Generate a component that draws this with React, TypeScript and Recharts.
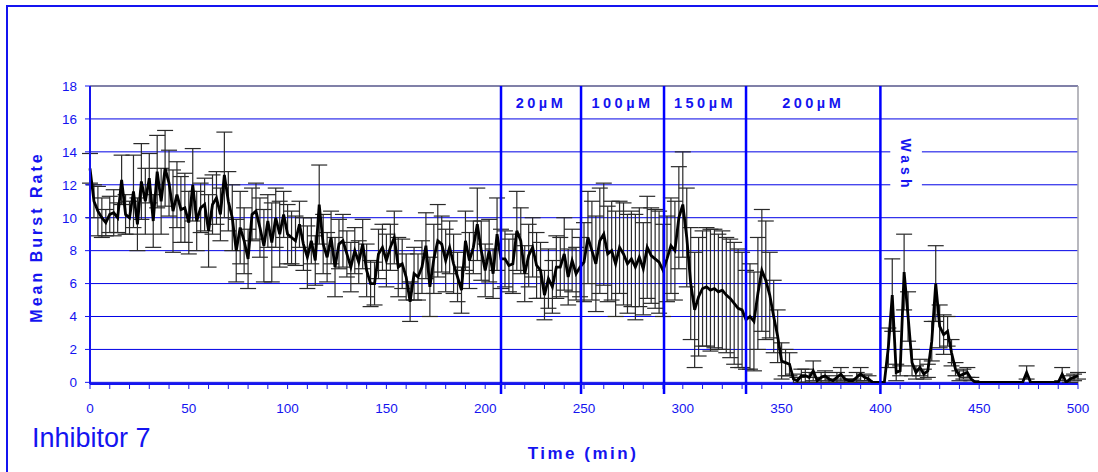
import React from 'react';
import {
  LineChart, Line, XAxis, YAxis, CartesianGrid, ErrorBar,
  ReferenceLine, ReferenceArea,
} from 'recharts';

// Sampling step of the recording (minutes)
const STEP = 2;

// Mean burst rate by phase (every 2 min)
const BASELINE_MEAN = [
  13.0, 11.0, 10.4, 10.0, 9.7, 10.2, 10.3, 10.0, 12.3, 10.2,
  10.0, 11.6, 9.6, 12.2, 11.0, 12.4, 9.8, 12.8, 11.0, 13.0,
  12.1, 10.4, 11.4, 10.5, 10.6, 9.7, 12.0, 9.8, 10.6, 10.8,
  9.2, 10.8, 11.2, 10.2, 12.6, 11.0, 10.0, 8.0, 9.4, 8.6,
  7.5, 10.2, 10.4, 9.4, 8.3, 9.8, 8.5, 10.0, 9.0, 10.2,
  9.0, 8.8, 8.6, 9.6, 8.4, 7.6, 8.6, 7.4, 10.8, 8.4,
  7.6, 8.8, 7.0, 8.4, 8.6, 7.8, 7.0, 8.0, 7.3, 8.4,
  6.8, 6.0, 6.0, 7.8, 8.2, 7.4, 8.2, 8.8, 7.0, 7.2,
  6.4, 4.9, 6.6, 6.4,
  7.0, 8.3, 5.8, 7.5, 8.6, 8.4, 7.4, 8.2, 7.2, 6.4,
  5.6, 8.6, 7.4, 8.2, 9.6, 8.0, 6.8, 8.0, 6.6, 9.0, 7.5,
];
const DOSE20_MEAN = [7.5, 7.1, 7.2, 9.2, 8.6, 6.6, 7.7, 8.2, 7.1, 6.8, 5.3, 6.3, 5.8, 7.0, 7.0, 7.8, 6.4, 7.4, 6.6, 7.0];
const DOSE100_MEAN = [7.3, 8.8, 8.0, 7.2, 8.6, 9.0, 7.8, 8.0, 7.2, 8.2, 7.8, 7.2, 7.5, 7.0, 7.6, 6.9, 8.2, 7.7, 7.5, 7.3, 6.8];
const DOSE150_MEAN = [7.5, 8.3, 8.0, 10.0, 10.8, 8.8, 6.0, 4.4, 5.2, 5.7, 5.8, 5.6, 5.7, 5.5, 5.6, 5.3, 5.1, 4.8, 4.5, 4.4];
const DOSE200_MEAN = [
  3.8, 4.0, 3.7, 5.4, 6.8, 6.2, 5.3, 4.0, 2.8, 1.3,
  1.2, 1.1, 0.2, 0.1, 0.4, 0.4, 0.3, 0.7, 0.1, 0.3,
  0.4, 0.2, 0.1, 0.3, 0.5, 0.2, 0.1, 0.1, 0.3, 0.5,
  0.3, 0.2, 0, 0, 0, 0,
];
const WASH_MEAN = [
  2.1, 5.3, 0.6, 0.7, 6.7, 4.0, 1.2, 0.6, 0.9, 0.5,
  0.7, 2.5, 6.0, 3.4, 2.9, 3.1, 1.8, 0.8, 0.4, 0.5,
  0.6, 0.2, 0,
  0, 0, 0, 0, 0, 0, 0, 0, 0, 0, 0, 0, 0.6,
  0, 0, 0, 0, 0, 0, 0, 0, 0.5, 0, 0.2, 0.3, 0.4,
];

// Error (SD) by phase
const BASELINE_ERR = [
  0.9, 1.0, 1.5, 1.2, 0.8, 1.1, 1.4, 0.9, 1.5, 1.2,
  1.0, 2.2, 1.6, 2.3, 2.0, 1.5, 1.6, 2.2, 2.0, 2.3,
  2.0, 2.5, 2.0, 2.0, 2.1, 1.9, 2.2, 1.8, 1.5, 1.6,
  2.2, 1.8, 1.6, 1.6, 2.6, 1.8, 2.0, 1.9, 2.2, 2.0,
  1.8, 1.6, 1.7, 1.8, 2.2, 1.6, 2.4, 1.8, 2.0, 1.4,
  1.8, 1.6, 1.5, 1.4, 1.6, 1.9, 1.4, 1.5, 2.4, 1.8,
  1.5, 1.6, 1.8, 1.5, 1.6, 1.4, 1.5, 1.4, 1.3, 1.5,
  1.6, 1.4, 1.3, 1.5, 1.4, 1.6, 1.4, 1.6, 1.8, 1.5,
  1.4, 1.2, 1.6, 1.4,
  1.6, 2.0, 1.8, 2.1, 2.2, 1.7, 1.9, 1.6, 1.8, 1.5,
  1.4, 1.8, 1.7, 1.6, 2.2, 1.8, 1.6, 1.9, 1.5, 2.2, 1.8,
];
const DOSE20_ERR = [1.7, 1.6, 1.8, 2.4, 2.0, 1.7, 1.9, 1.8, 2.0, 1.7, 1.5, 1.8, 1.6, 1.9, 1.8, 2.2, 1.7, 1.9, 1.6, 1.8];
const DOSE100_ERR = [2.4, 2.8, 3.0, 2.9, 3.2, 3.1, 2.9, 3.0, 3.2, 2.8, 3.1, 3.0, 2.9, 3.2, 3.0, 2.8, 3.1, 2.9, 3.0, 3.1, 2.8];
const DOSE150_ERR = [2.6, 2.9, 3.0, 3.1, 3.2, 3.0, 3.4, 3.5, 3.6, 3.5, 3.6, 3.7, 3.6, 3.5, 3.6, 3.5, 3.6, 3.7, 3.6, 3.5];
const DOSE200_ERR = [
  3.0, 3.2, 3.0, 3.4, 3.7, 3.6, 2.6, 2.2, 1.6, 1.1,
  0.8, 0.7, 0.3, 0.2, 0.4, 0.4, 0.3, 0.6, 0.2, 0.3,
  0.3, 0.2, 0.1, 0.3, 0.4, 0.2, 0.1, 0.1, 0.3, 0.4,
  0.2, 0.2, 0, 0, 0, 0,
];
const WASH_ERR = [
  1.2, 2.2, 0.5, 0.3, 2.3, 1.5, 0.8, 0.4, 0.5, 0.3,
  0.4, 1.2, 2.3, 1.3, 1.2, 0.9, 0.8, 0.4, 0.3, 0.3,
  0.3, 0.1, 0,
  0, 0, 0, 0, 0, 0, 0, 0, 0, 0, 0, 0, 0.4,
  0, 0, 0, 0, 0, 0, 0, 0, 0.4, 0, 0.2, 0.2, 0.2,
];

// Treatment boundaries (min) and labels
const BOUNDARIES = [208, 248.5, 290.5, 332, 400];
const DOSE_LABELS = ['20\u00b5M', '100\u00b5M', '150\u00b5M', '200\u00b5M'];
const WASH_LABEL = 'Wash';

const X_TICKS = [0, 10, 20, 30, 40, 50, 60, 70, 80, 90, 100, 110, 120, 130, 140, 150, 160, 170, 180, 190, 200,
  210, 220, 230, 240, 250, 260, 270, 280, 290, 300, 310, 320, 330, 340, 350, 360, 370, 380, 390, 400,
  410, 420, 430, 440, 450, 460, 470, 480, 490, 500];
const Y_TICKS = [0, 2, 4, 6, 8, 10, 12, 14, 16, 18];

const MEAN = [...BASELINE_MEAN, ...DOSE20_MEAN, ...DOSE100_MEAN, ...DOSE150_MEAN, ...DOSE200_MEAN, ...WASH_MEAN];
const ERR = [...BASELINE_ERR, ...DOSE20_ERR, ...DOSE100_ERR, ...DOSE150_ERR, ...DOSE200_ERR, ...WASH_ERR];
const data = MEAN.map((m, i) => ({ t: i * STEP, mean: m, err: ERR[i] }));

const BLUE = '#1414f0';
const FONT = '"Liberation Sans", Arial, sans-serif';

const VLine = (p: any) => {
  const top = Math.min(p.y1, p.y2);
  const bot = Math.max(p.y1, p.y2);
  return <line x1={p.x1} x2={p.x2} y1={top} y2={bot + 10} stroke="#0000ff" strokeWidth={2.5} />;
};

export default function App() {
  return (
    <div style={{ position: 'absolute', left: 0, top: 0, width: 1098, height: 472, background: '#fff', overflow: 'hidden', fontFamily: FONT }}>
      <div style={{ position: 'absolute', left: 6, top: 5, width: 1200, height: 600, borderTop: `2px solid ${BLUE}`, borderLeft: `2px solid ${BLUE}` }} />
      <div style={{ position: 'absolute', left: 0, top: 0 }}>
        <LineChart width={1098} height={472} data={data} margin={{ top: 86, right: 20, bottom: 58, left: 40 }}>
          <CartesianGrid vertical={false} stroke="#0000e6" strokeWidth={1} />
          <XAxis
            dataKey="t" type="number" domain={[0, 500]} ticks={X_TICKS} interval={0}
            tickFormatter={(v: number) => (v % 50 === 0 ? String(v) : '')}
            tick={{ fill: BLUE, fontSize: 13.5, fontFamily: FONT }}
            tickLine={{ stroke: BLUE }} tickSize={5} tickMargin={14}
            axisLine={{ stroke: BLUE, strokeWidth: 2 }} height={30}
          />
          <YAxis
            type="number" domain={[0, 18]} ticks={Y_TICKS} interval={0}
            tick={{ fill: BLUE, fontSize: 13.5, fontFamily: FONT }}
            tickLine={{ stroke: BLUE }} tickSize={5} tickMargin={8}
            axisLine={{ stroke: BLUE, strokeWidth: 2 }} width={50}
          />
          <ReferenceLine y={18} stroke="#8080a8" strokeWidth={2} />
          <ReferenceLine x={500} stroke="#a0a0a8" strokeWidth={1.5} />
          {DOSE_LABELS.map((lab, i) => (
            <ReferenceArea
              key={lab} x1={BOUNDARIES[i]} x2={BOUNDARIES[i + 1]} y1={16} y2={18}
              fill="none" fillOpacity={0} stroke="none"
              label={{ value: lab, position: 'center', fill: BLUE, fontSize: 14.5, fontWeight: 'bold', fontFamily: FONT, letterSpacing: 3.5 } as any}
            />
          ))}
          <ReferenceArea
            x1={405} x2={421} y1={11.6} y2={14.8} fill="#ffffff" fillOpacity={1} stroke="none"
            label={{ value: WASH_LABEL, position: 'center', angle: 90, fill: BLUE, fontSize: 14, fontWeight: 'bold', fontFamily: FONT, letterSpacing: 4 } as any}
          />
          <Line
            dataKey="mean" type="linear" stroke="#000" strokeWidth={2.8} dot={false}
            isAnimationActive={false}
          >
            <ErrorBar dataKey="err" width={8} stroke="#2a2a2a" strokeWidth={1.2} direction="y" isAnimationActive={false} />
          </Line>
          {BOUNDARIES.map((b) => (
            <ReferenceLine key={b} x={b} shape={VLine} />
          ))}
        </LineChart>
      </div>
      <svg width={1098} height={472} style={{ position: 'absolute', left: 0, top: 0, pointerEvents: 'none' }}>
        <text
          x={36} y={237} transform="rotate(-90 36 237)" textAnchor="middle" dominantBaseline="central"
          fill={BLUE} fontSize={16} fontWeight="bold" fontFamily={FONT} letterSpacing={3}
        >Mean Burst Rate</text>
        <text x={583} y={459} textAnchor="middle" fill={BLUE} fontSize={17} fontWeight="bold" fontFamily={FONT} letterSpacing={2.5}>Time (min)</text>
        <text x={32} y={447} fill={BLUE} fontSize={27} fontFamily={FONT}>Inhibitor 7</text>
      </svg>
    </div>
  );
}
